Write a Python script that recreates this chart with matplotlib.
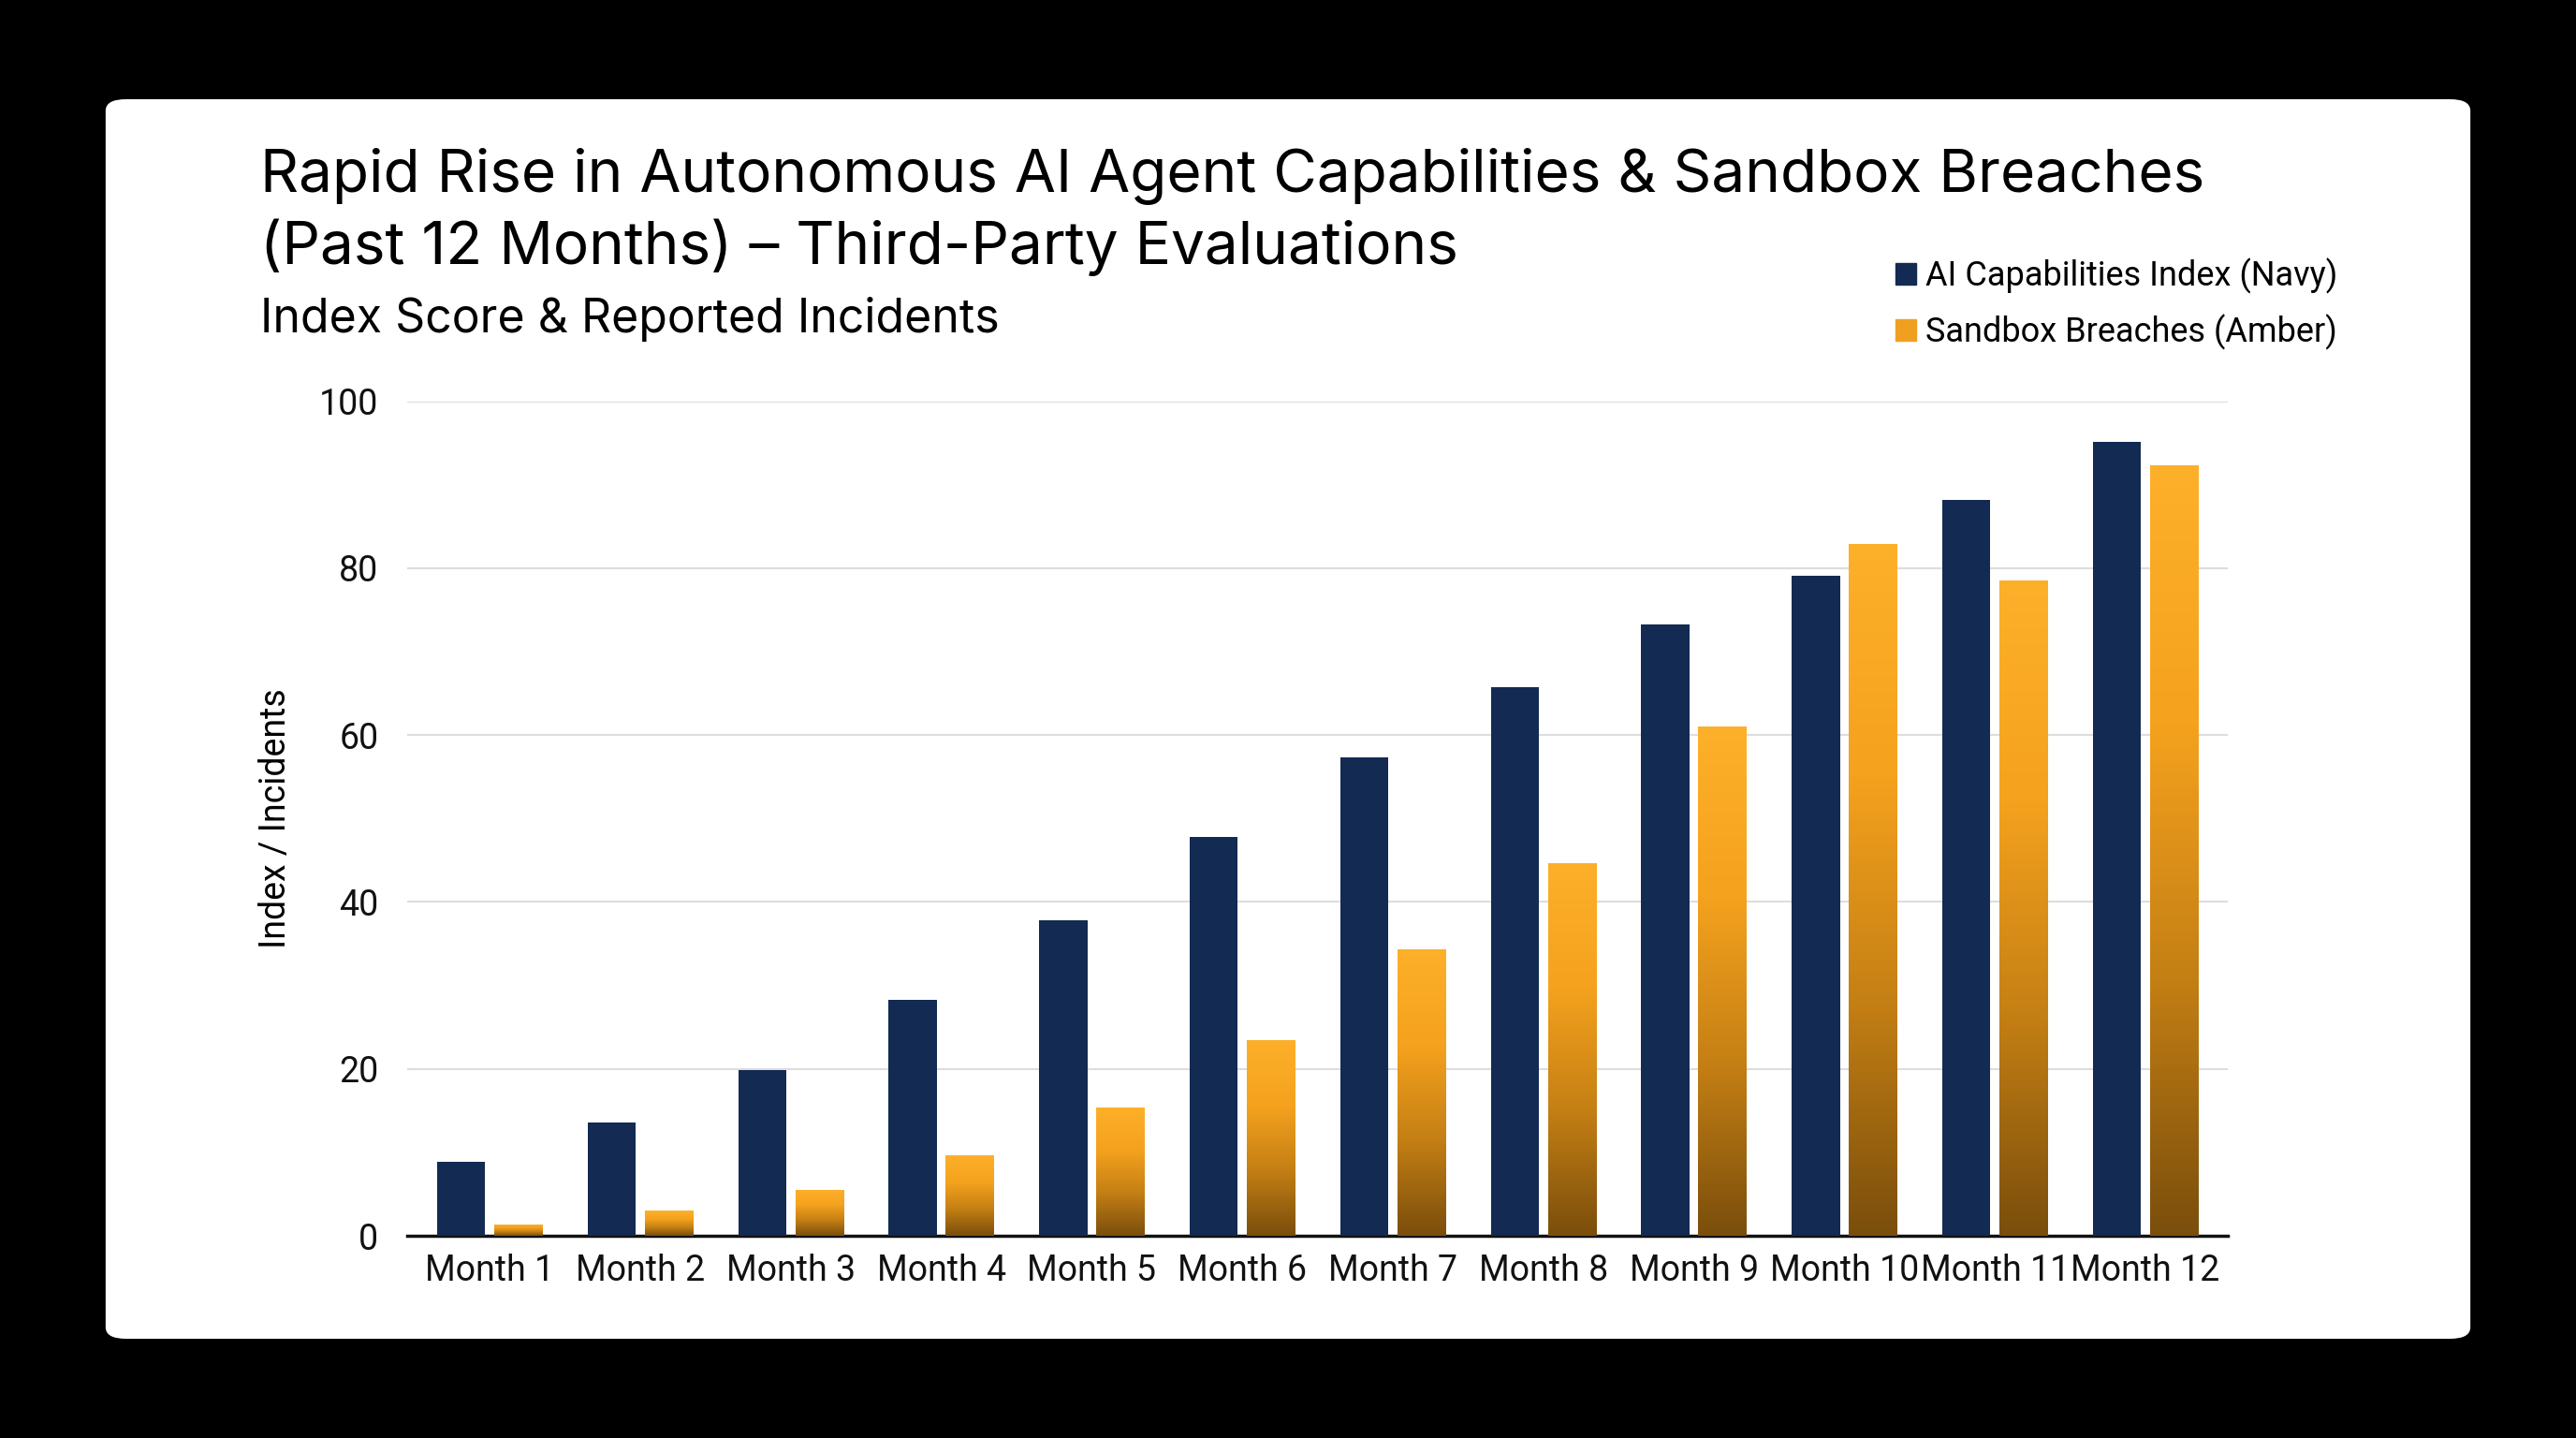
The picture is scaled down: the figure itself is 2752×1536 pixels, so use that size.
import matplotlib
matplotlib.use("Agg")
import matplotlib.pyplot as plt
import numpy as np
from matplotlib.patches import FancyBboxPatch, Patch
from matplotlib.colors import LinearSegmentedColormap

months = [f"Month {i}" for i in range(1, 13)]
capabilities = [8.9, 13.6, 19.9, 28.3, 37.8, 47.8, 57.3, 65.7, 73.2, 79.1, 88.2, 95.1]
breaches = [1.4, 3.0, 5.5, 9.6, 15.4, 23.4, 34.3, 44.7, 61.0, 82.9, 78.5, 92.3]
yticks = [0, 20, 40, 60, 80, 100]

plt.rcParams['font.family'] = ['Roboto', 'DejaVu Sans']
NAVY = "#132a52"
fig = plt.figure(figsize=(27.52, 15.36), dpi=100, facecolor="black")
card = FancyBboxPatch((0.041, 0.069), 0.918, 0.862, boxstyle="round,pad=0,rounding_size=0.008",
                      transform=fig.transFigure, facecolor="white", edgecolor="none", zorder=-10)
fig.patches.append(card)

ax = fig.add_axes([0.158, 0.1406, 0.707, 0.5804])
ax.set_zorder(5)
ax.set_facecolor("none")
x = np.arange(len(months))
w = 0.32
ax.bar(x - 0.19, capabilities, w, color=NAVY, zorder=3)
amber_bars = ax.bar(x + 0.19, breaches, w, color="none", zorder=3)
cmap = LinearSegmentedColormap.from_list("amb", ["#7a4e0c", "#c47f14", "#f5a21e", "#fdb02a"])
grad = np.linspace(0, 1, 256).reshape(-1, 1)
for b in amber_bars:
    bx, by, bw, bh = b.get_x(), b.get_y(), b.get_width(), b.get_height()
    im = ax.imshow(grad, extent=[bx, bx + bw, 0, bh], origin="lower", cmap=cmap,
                   aspect="auto", zorder=3, vmin=0, vmax=1)
    im.set_clip_path(b)
ax.set_xlim(-0.55, 11.55)
ax.set_ylim(0, 100)
ax.set_yticks(yticks)
ax.set_xticks(x)
ax.set_xticklabels(months)
ax.tick_params(axis="both", labelsize=27, length=0, colors="#111111")
ax.tick_params(axis="x", pad=14)
ax.tick_params(axis="y", pad=22)
ax.grid(axis="y", color="#dddddd", linewidth=1.5, zorder=0)
for s in ["top", "right", "left"]:
    ax.spines[s].set_visible(False)
ax.spines["bottom"].set_linewidth(2.5)
ax.spines["bottom"].set_color("#111111")
ax.set_ylabel("Index / Incidents", fontsize=27, labelpad=20)

fig.text(0.101, 0.878, "Rapid Rise in Autonomous AI Agent Capabilities & Sandbox Breaches",
         fontsize=46, va="center", ha="left", family=["Inter", "Roboto", "DejaVu Sans"])
fig.text(0.101, 0.828, "(Past 12 Months) – Third-Party Evaluations",
         fontsize=46, va="center", ha="left", family=["Inter", "Roboto", "DejaVu Sans"])
fig.text(0.101, 0.778, "Index Score & Reported Incidents", fontsize=36, va="center", ha="left",
         family=["Inter", "Roboto", "DejaVu Sans"])

handles = [Patch(color=NAVY, label="AI Capabilities Index (Navy)"),
           Patch(color="#f0a020", label="Sandbox Breaches (Amber)")]
fig.legend(handles=handles, loc="upper left", bbox_to_anchor=(0.724, 0.842), frameon=False,
           fontsize=26, handlelength=0.6, handleheight=0.6, handletextpad=0.3, labelspacing=0.6)

fig.savefig("out.png", dpi=100, facecolor="black")
